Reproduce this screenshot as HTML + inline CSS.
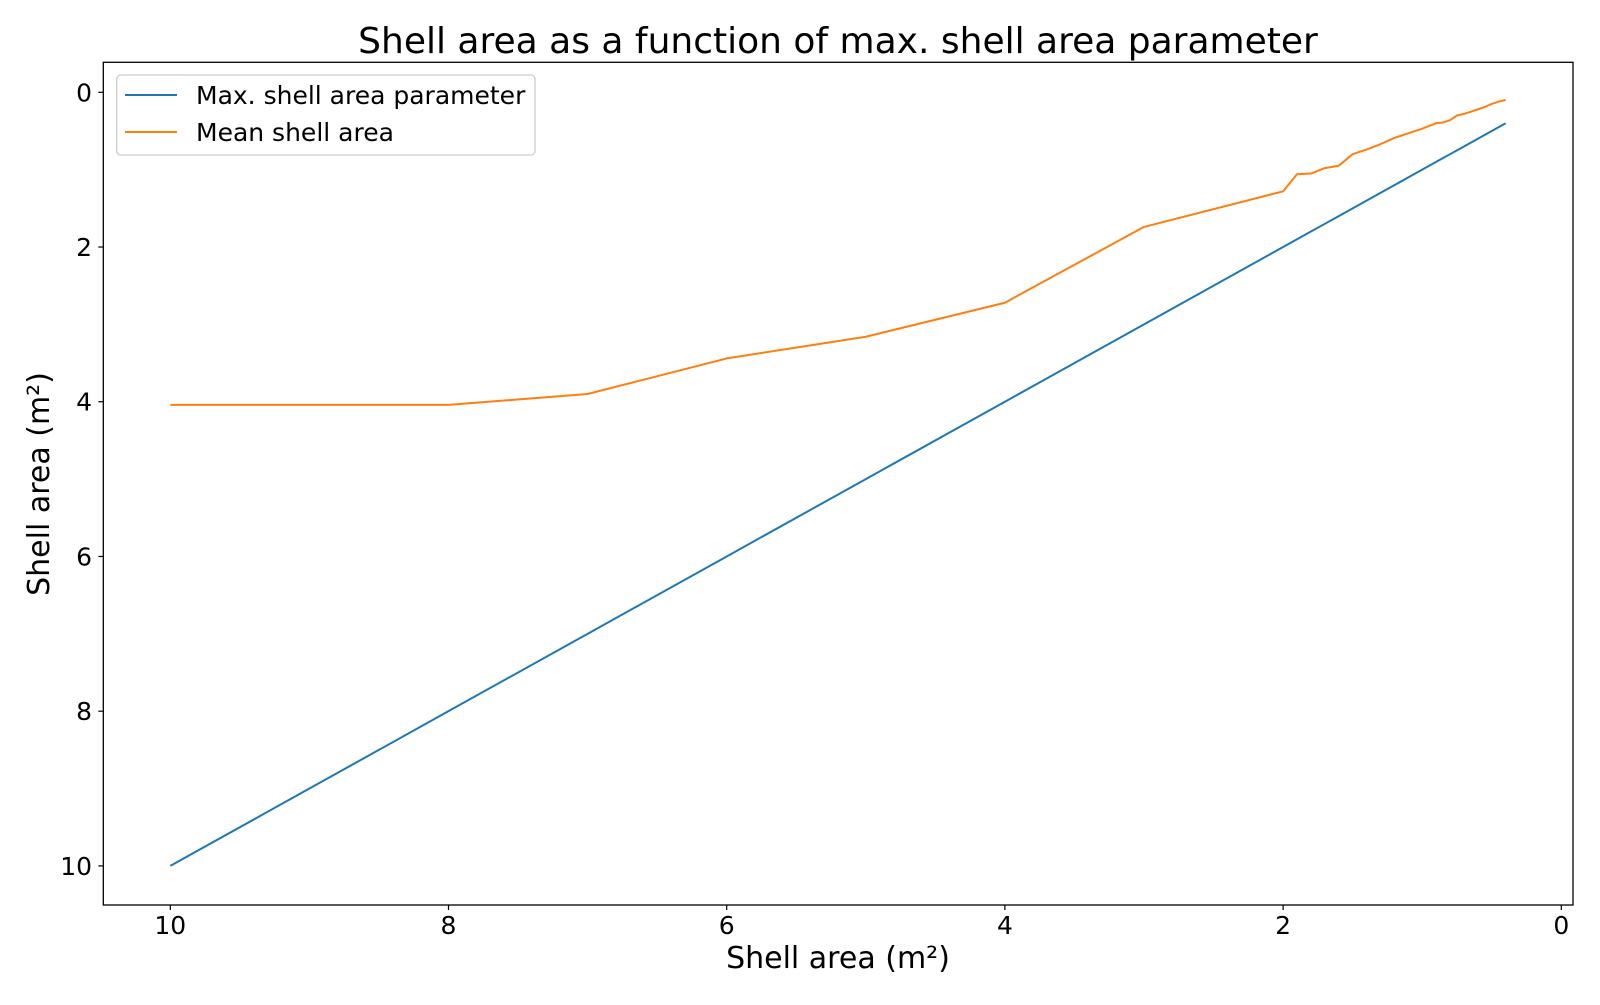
<!DOCTYPE html>
<html><head><meta charset="utf-8"><style>
body{margin:0;background:#fff;}
svg text{font-family:"DejaVu Sans","Liberation Sans",sans-serif;fill:#000;}
</style></head><body>
<svg id="chart" width="1600" height="1000" xmlns="http://www.w3.org/2000/svg">
<rect width="1600" height="1000" fill="#fff"/>
<text x="838" y="53" font-size="36" text-anchor="middle">Shell area as a function of max. shell area parameter</text>
<g id="ticks"></g>
<g id="lines"></g>
<rect x="103.3" y="62.3" width="1469.7" height="842.7" fill="none" stroke="#000" stroke-width="1.3"/>
<text x="838" y="968" font-size="30" text-anchor="middle">Shell area (m²)</text>
<text transform="translate(49,484) rotate(-90)" font-size="30" text-anchor="middle">Shell area (m²)</text>
<g>
<rect x="116.7" y="75" width="418.3" height="80" rx="4" fill="#fff" fill-opacity="0.8" stroke="#ccc" stroke-width="1.3"/>
<line x1="125" y1="95" x2="177" y2="95" stroke="#1f77b4" stroke-width="2"/>
<text x="196" y="104" font-size="25">Max. shell area parameter</text>
<line x1="125" y1="132" x2="177" y2="132" stroke="#ff7f0e" stroke-width="2"/>
<text x="196" y="141" font-size="25">Mean shell area</text>
</g>
</svg>
<script>
const xValues=[10,9,8,7,6,5,4,3,2,1.9,1.8,1.7,1.6,1.5,1.4,1.3,1.2,1.1,1.0,0.9,0.85,0.8,0.75,0.7,0.65,0.6,0.55,0.5,0.45,0.4];
const maxParam=[10,9,8,7,6,5,4,3,2,1.9,1.8,1.7,1.6,1.5,1.4,1.3,1.2,1.1,1.0,0.9,0.85,0.8,0.75,0.7,0.65,0.6,0.55,0.5,0.45,0.4];
const meanArea=[4.04,4.04,4.04,3.9,3.44,3.16,2.72,1.74,1.28,1.06,1.05,0.98,0.95,0.8,0.74,0.67,0.59,0.53,0.47,0.4,0.39,0.36,0.3,0.28,0.25,0.22,0.19,0.15,0.12,0.1];
const xTicks=[10,8,6,4,2,0];
const yTicks=[0,2,4,6,8,10];
const X=v=>1561.3-v*139.1;
const Y=v=>92.3+v*77.36;
const NS='http://www.w3.org/2000/svg';
const tg=document.getElementById('ticks');
xTicks.forEach(t=>{
  const l=document.createElementNS(NS,'line');
  l.setAttribute('x1',X(t));l.setAttribute('x2',X(t));l.setAttribute('y1',905);l.setAttribute('y2',910);l.setAttribute('stroke','#000');l.setAttribute('stroke-width','1.2');
  
  
  tg.appendChild(l);
  const s=document.createElementNS(NS,'text');
  s.setAttribute('x',X(t));s.setAttribute('y',934);s.setAttribute('font-size','25');s.setAttribute('text-anchor','middle');s.textContent=t;
  
  
  tg.appendChild(s);
});
yTicks.forEach(t=>{
  const l=document.createElementNS(NS,'line');
  l.setAttribute('x1',98.3);l.setAttribute('x2',103.3);l.setAttribute('y1',Y(t));l.setAttribute('y2',Y(t));l.setAttribute('stroke','#000');l.setAttribute('stroke-width','1.2');
  
  
  tg.appendChild(l);
  const s=document.createElementNS(NS,'text');
  s.setAttribute('x',92);s.setAttribute('y',Y(t)+9);s.setAttribute('font-size','25');s.setAttribute('text-anchor','end');s.textContent=t;
  
  
  tg.appendChild(s);
});
const lg=document.getElementById('lines');
function addLine(vals,color,name){
  const p=document.createElementNS(NS,'polyline');
  p.setAttribute('points',xValues.map((x,i)=>X(x)+','+Y(vals[i])).join(' '));
  p.setAttribute('fill','none');p.setAttribute('stroke',color);p.setAttribute('stroke-width','2');p.setAttribute('stroke-linejoin','round');
  
  
  lg.appendChild(p);
}
addLine(maxParam,'#1f77b4','max-param-line');
addLine(meanArea,'#ff7f0e','mean-area-line');
</script>
</body></html>
